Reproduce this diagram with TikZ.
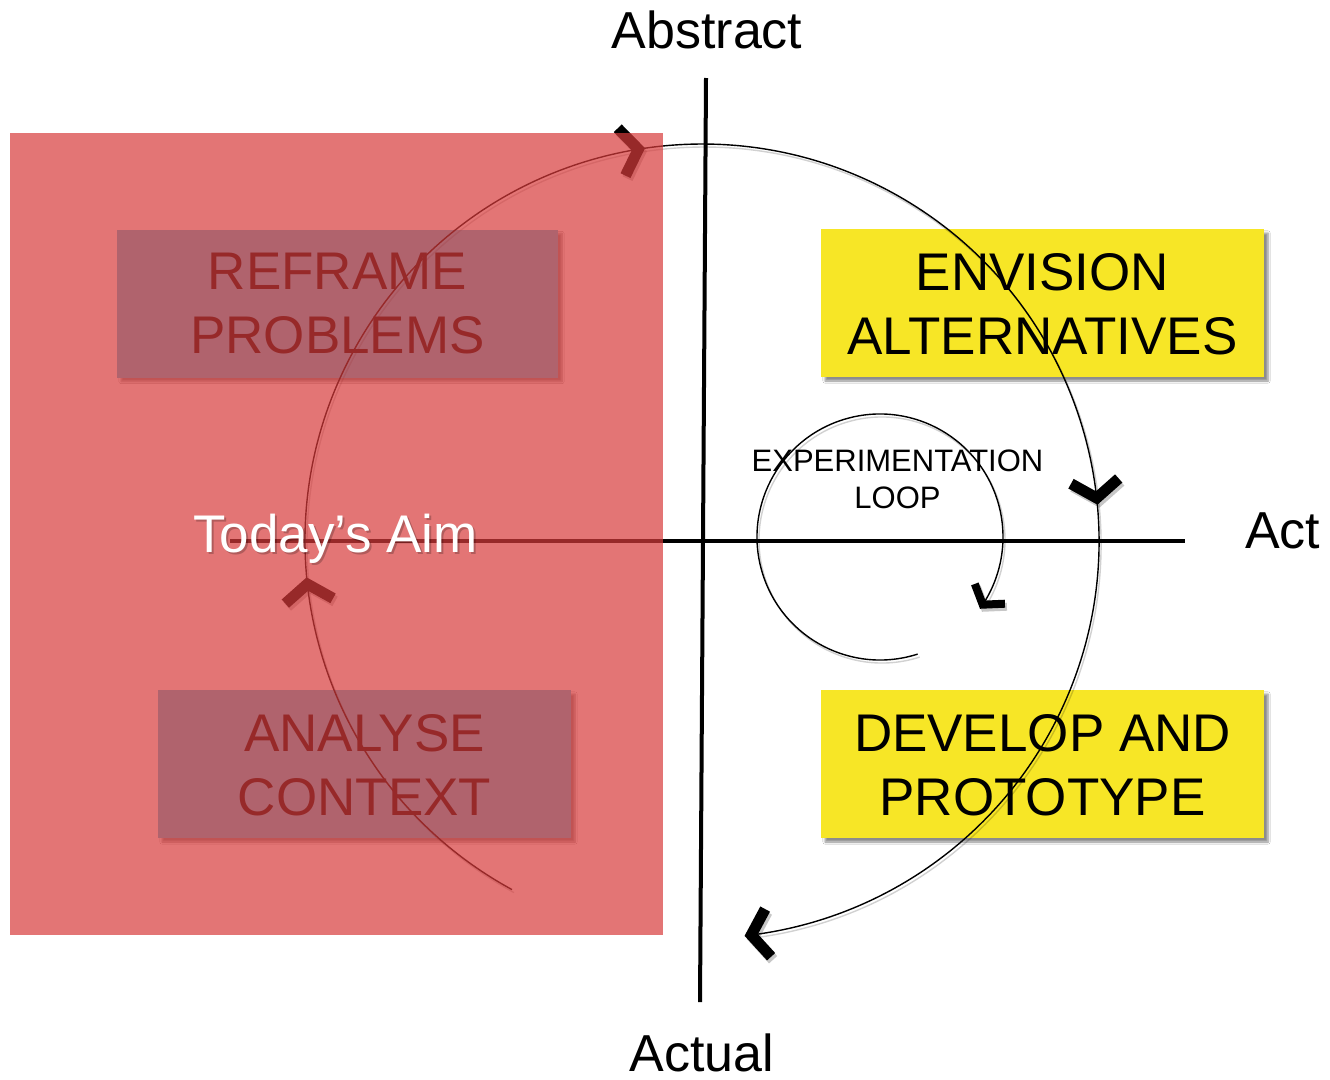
\documentclass[tikz,border=0pt]{standalone}
\usepackage{fontspec}
\setmainfont{Liberation Sans}
\usetikzlibrary{decorations.markings,shadows.blur}
\definecolor{ovl}{RGB}{216,59,59}
\definecolor{boxblue}{RGB}{83,196,229}
\definecolor{yel}{RGB}{247,230,38}
\tikzset{
  chev/.style={line width=11pt, miter limit=10, line join=miter, line cap=butt},
  smallchev/.style={line width=8pt, miter limit=10, line join=miter, line cap=butt},
  boxshadow/.style={blur shadow={shadow xshift=4pt, shadow yshift=-4pt, shadow opacity=45, shadow blur steps=6}},
  ybox/.style={fill=yel, boxshadow, minimum width=443pt, minimum height=148pt, inner sep=0pt},
  bbox/.style={fill=boxblue, boxshadow, inner sep=0pt, minimum height=148pt},
  big/.style={font=\fontsize{53}{64}\selectfont, align=center, inner sep=0pt},
  small/.style={font=\fontsize{31}{37}\selectfont, align=center, inner sep=0pt},
  axis/.style={line width=4pt},
  spiral/.style={line width=1.4pt},
  shad/.style={draw opacity=0.18, shift={(2,3)}},
  shadmark/.style={draw opacity=0.22},
}
\newcommand\drawbigspiral[2]{%
  \draw[spiral,#1,postaction={decorate},decoration={markings,
    mark=at position .170 with {\draw[chev,#2] (-17,-24)--(0,0)--(-17,24);},
    mark=at position .438 with {\draw[chev,#2] (-17,-24)--(0,0)--(-17,24);},
    mark=at position .7245 with {\draw[chev,#2] (-17,-24)--(0,0)--(-17,24);},
    mark=at position .999 with {\draw[chev,#2] (-17,-24)--(0,0)--(-17,24);}}]
    (512,889.6) arc[start angle=118.6, end angle=443.2, radius=397];}
\newcommand\drawsmallloop[2]{%
  \draw[spiral,#1,postaction={decorate},decoration={markings,
    mark=at position .999 with {\draw[smallchev,#2] (-13,-18)--(0,0)--(-13,18);}}]
    (917.6,654.1) arc[start angle=72.2, end angle=393.7, radius=123];}
\begin{document}
\begin{tikzpicture}[x=1pt,y=-1pt]
\useasboundingbox[fill=white] (0,0) rectangle (1330,1079);
% boxes on the left (seen through the red overlay)
\node[bbox, minimum width=441pt] (reframe) at (337.5,303.5) {};
\node[big] (reframetxt) at (337.5,304) {REFRAME\\PROBLEMS};
\node[bbox, minimum width=413pt] (analyse) at (364.5,764) {};
\node[big] (analysetxt) at (364.5,765) {ANALYSE\\CONTEXT};
% yellow boxes
\node[ybox] (envision) at (1042.5,303) {};
\node[big] (envisiontxt) at (1042.5,304) {ENVISION\\ALTERNATIVES};
\node[ybox] (develop) at (1042.5,764) {};
\node[big] (developtxt) at (1042.5,765) {DEVELOP AND\\PROTOTYPE};
% axes
\coordinate (vtop) at (706,78);
\coordinate (vbot) at (700,1002);
\coordinate (hleft) at (230,541);
\coordinate (hright) at (1185,541);
\draw[axis] (vtop) -- (vbot);
\draw[axis] (hleft) -- (hright);
% spirals
\drawbigspiral{shad}{shadmark}
\drawbigspiral{}{}
\drawsmallloop{shad}{shadmark}
\drawsmallloop{}{}
\node[small] (loop) at (897.5,479) {EXPERIMENTATION\\LOOP};
% axis labels
\node[font=\fontsize{52}{62}\selectfont, inner sep=0pt, anchor=base] (abstract) at (707,48) {Abstract};
\node[font=\fontsize{52}{62}\selectfont, inner sep=0pt, anchor=base] (actual) at (702,1071) {Actual};
\node[font=\fontsize{52}{62}\selectfont, inner sep=0pt, anchor=base west] (act) at (1245,548) {Act};
% red overlay
\fill[ovl, opacity=0.7] (10,133) rectangle (663,935);
% today's aim
\node[font=\fontsize{53}{62}\selectfont, inner sep=0pt, anchor=base, text=black, opacity=0.22] (aimshadow) at (337.5,554.5) {Today’s Aim};
\node[font=\fontsize{53}{62}\selectfont, inner sep=0pt, anchor=base, text=white] (aim) at (335.5,552) {Today’s Aim};
\end{tikzpicture}
\end{document}
